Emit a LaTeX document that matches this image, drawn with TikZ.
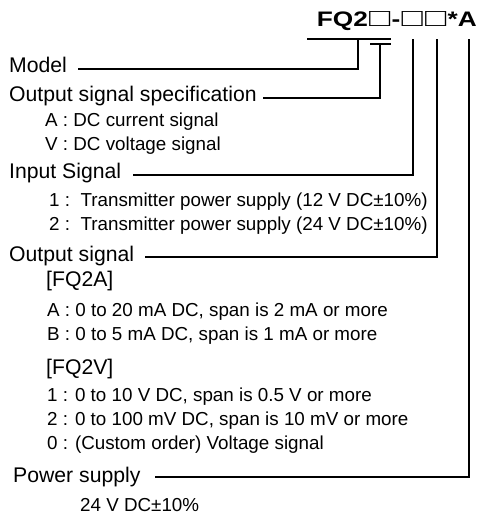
\documentclass[tikz,border=0pt]{standalone}
\usepackage{fontspec}
\usepackage{graphicx}
\setmainfont{Liberation Sans}
\newcommand{\sqbox}{\makebox[18.9pt][c]{\mdseries\resizebox{17pt}{15pt}{□}}}
\begin{document}
\begin{tikzpicture}[x=1pt,y=-1pt,
  lbl/.style={anchor=base west,inner sep=0pt,font=\fontsize{21.2}{25}\selectfont},
  sub/.style={anchor=base west,inner sep=0pt,font=\fontsize{18.8}{22}\selectfont},
  ttl/.style={anchor=base east,inner sep=0pt,font=\fontsize{21}{24}\selectfont\bfseries},
  conn/.style={line width=1.1pt}]
\useasboundingbox (0,0) rectangle (477,515);
% title
\node[ttl] (title) at (477,26.5) {\scalebox{1.25}[1]{FQ2\sqbox-\sqbox\sqbox*A}};
% labels
\node[lbl] (model) at (9,72) {Model};
\node[lbl] (oss) at (9,101) {Output signal specification};
\node[sub] (ossa) at (45,126) {A : DC current signal};
\node[sub] (ossv) at (45,150) {V : DC voltage signal};
\node[lbl] (inp) at (9,178) {Input Signal};
\node[sub] (inp1) at (49,206) {1 :\ \ Transmitter power supply (12 V DC±10\%)};
\node[sub] (inp2) at (49,230) {2 :\ \ Transmitter power supply (24 V DC±10\%)};
\node[lbl] (out) at (9,261) {Output signal};
\node[lbl] (fqa) at (46,286) {[FQ2A]};
\node[sub] (outa) at (47,316) {A :\ 0 to 20 mA DC, span is 2 mA or more};
\node[sub] (outb) at (47,340) {B :\ 0 to 5 mA DC, span is 1 mA or more};
\node[lbl] (fqv) at (46,374) {[FQ2V]};
\node[sub] (out1) at (47,401) {1 : 0 to 10 V DC, span is 0.5 V or more};
\node[sub] (out2) at (47,425) {2 : 0 to 100 mV DC, span is 10 mV or more};
\node[sub] (out0) at (47,449) {0 : (Custom order) Voltage signal};
\node[lbl] (pwr) at (13,482) {Power supply};
\node[sub] (pwrv) at (80,511) {24 V DC±10\%};
% connector points
\coordinate (barAl) at (307,39);
\coordinate (barAr) at (391,39);
\coordinate (barBl) at (370,44);
\coordinate (barBr) at (391,44);
\coordinate (cModel) at (358,39);
\coordinate (cOss) at (380,44);
\coordinate (cInp) at (413,39);
\coordinate (cOut) at (437,39);
\coordinate (cPwr) at (469,39);
\coordinate (sModel) at (78,69);
\coordinate (sOss) at (263,98);
\coordinate (sInp) at (133,175);
\coordinate (sOut) at (145,257);
\coordinate (sPwr) at (155,477);
% connectors
\draw[conn] (barAl) -- (barAr);
\draw[conn] (barBl) -- (barBr);
\draw[conn] (sModel) -| (cModel);
\draw[conn] (sOss) -| (cOss);
\draw[conn] (sInp) -| (cInp);
\draw[conn] (sOut) -| (cOut);
\draw[conn] (sPwr) -| (cPwr);
\end{tikzpicture}
\end{document}
